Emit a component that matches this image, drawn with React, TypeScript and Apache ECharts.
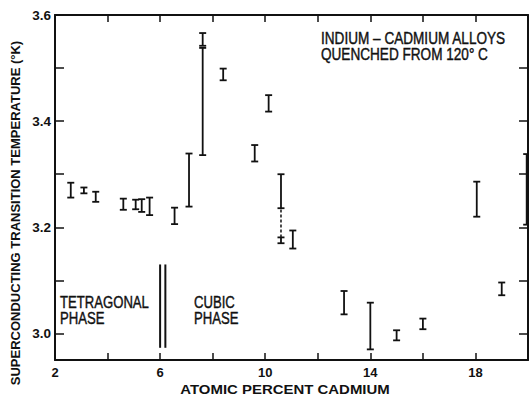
import React, { useEffect, useRef } from "react";
import * as echarts from "echarts";

// Error-bar data (atomic percent Cd, Tc low, Tc high)
const xs = [2.6, 3.1, 3.55, 4.6, 5.07, 5.3, 5.6, 6.55, 7.1, 7.62, 7.62, 8.4, 9.6, 10.13, 10.6, 10.6, 11.05, 13.0, 14.0, 15.0, 16.0, 18.05, 19.0, 19.95];
const lows = [3.256, 3.264, 3.248, 3.233, 3.234, 3.229, 3.223, 3.206, 3.239, 3.542, 3.336, 3.477, 3.324, 3.418, 3.236, 3.17, 3.16, 3.036, 2.97, 2.987, 3.008, 3.22, 3.072, 3.205];
const highs = [3.284, 3.275, 3.267, 3.254, 3.252, 3.253, 3.256, 3.237, 3.339, 3.566, 3.538, 3.499, 3.355, 3.449, 3.3, 3.181, 3.194, 3.08, 3.058, 3.006, 3.028, 3.286, 3.096, 3.338];

// Dashed connection
const dashedX = 10.6;
const dashedRange = [3.181, 3.236];

// Phase boundary lines
const phaseXs = [6.0, 6.2];
const phaseRange = [2.973, 3.13];

// Axes
const xMin = 2;
const xMax = 20;
const xLabels = [2, 6, 10, 14, 18];
const yMin = 2.95;
const yMax = 3.6;
const yLabels = [3.0, 3.2, 3.4, 3.6];
const yTicks = [3.0, 3.1, 3.2, 3.3, 3.4, 3.5, 3.6];

const INK = "#111";
const SANS = "Liberation Sans, Arial, sans-serif";

export default function App() {
  const ref = useRef<HTMLDivElement>(null);
  useEffect(() => {
    if (!ref.current) return;
    const chart = echarts.init(ref.current, undefined, { renderer: "svg" });
    const axisFont = { fontFamily: SANS, fontWeight: "bold" as const, fontSize: 13.5, color: INK };
    const noteStyle = { fontFamily: SANS, fontSize: 16, lineHeight: 16.5, fill: INK, verticalAlign: "top" as const, stroke: INK, lineWidth: 0.4 };
    const option: any = {
      animation: false,
      backgroundColor: "#fff",
      grid: { left: 55, right: 1, top: 15, bottom: 36 },
      xAxis: [
        {
          type: "value", min: xMin, max: xMax, interval: 2, position: "bottom",
          axisLine: { show: true, lineStyle: { color: INK, width: 2 } },
          axisTick: { show: true, inside: true, length: 7, lineStyle: { color: INK, width: 1.5 } },
          axisLabel: { ...axisFont, fontSize: 13, margin: 6, showMaxLabel: false, formatter: (v: number) => (xLabels.includes(v) ? String(v) : "") },
          splitLine: { show: false },
        },
        {
          type: "value", min: xMin, max: xMax, interval: 2, position: "top",
          axisLine: { show: true, lineStyle: { color: INK, width: 2 } },
          axisTick: { show: true, inside: true, length: 7, lineStyle: { color: INK, width: 1.5 } },
          axisLabel: { show: false },
          splitLine: { show: false },
        },
      ],
      yAxis: [
        {
          type: "value", min: yMin, max: yMax, position: "left",
          axisLine: { show: true, lineStyle: { color: INK, width: 2 } },
          axisTick: { show: true, inside: true, length: 9, customValues: yTicks, lineStyle: { color: INK, width: 1.5 } },
          axisLabel: { ...axisFont, margin: 4, customValues: yLabels, formatter: (v: number) => v.toFixed(1) },
          splitLine: { show: false },
        },
        {
          type: "value", min: yMin, max: yMax, position: "right",
          axisLine: { show: true, lineStyle: { color: INK, width: 2 } },
          axisTick: { show: true, inside: true, length: 9, customValues: yTicks, lineStyle: { color: INK, width: 1.5 } },
          axisLabel: { show: false },
          splitLine: { show: false },
        },
      ],
      series: [
        {
          type: "custom",
          xAxisIndex: 0,
          yAxisIndex: 0,
          clip: false,
          encode: { x: 0, y: [1, 2] },
          data: xs.map((x, i) => [x, lows[i], highs[i]]),
          renderItem: (params: any, api: any) => {
            const x = api.value(0);
            const p1 = api.coord([x, api.value(1)]);
            const p2 = api.coord([x, api.value(2)]);
            const w = 3.5;
            const st = { stroke: INK, lineWidth: 1.8 };
            return {
              type: "group",
              children: [
                { type: "line", shape: { x1: p1[0], y1: p1[1], x2: p2[0], y2: p2[1] }, style: st },
                { type: "line", shape: { x1: p1[0] - w, y1: p1[1], x2: p1[0] + w, y2: p1[1] }, style: st },
                { type: "line", shape: { x1: p2[0] - w, y1: p2[1], x2: p2[0] + w, y2: p2[1] }, style: st },
              ],
            };
          },
        },
        {
          type: "line",
          symbol: "none",
          data: [[dashedX, dashedRange[0]], [dashedX, dashedRange[1]]],
          lineStyle: { color: INK, width: 1.5, type: [3, 2] },
        },
        ...phaseXs.map((px) => ({
          type: "line",
          symbol: "none",
          data: [[px, phaseRange[0]], [px, phaseRange[1]]],
          lineStyle: { color: INK, width: 2 },
        })),
      ],
      graphic: [
        {
          type: "text", x: 321, y: 30, scaleX: 0.85,
          style: { ...noteStyle, text: "INDIUM – CADMIUM ALLOYS\nQUENCHED FROM 120° C" },
        },
        {
          type: "text", x: 60, y: 294, scaleX: 0.82,
          style: { ...noteStyle, text: "TETRAGONAL\nPHASE" },
        },
        {
          type: "text", x: 194, y: 294, scaleX: 0.82,
          style: { ...noteStyle, text: "CUBIC\nPHASE" },
        },
        {
          type: "text", x: 285, y: 389, scaleX: 1.15,
          style: { text: "ATOMIC PERCENT CADMIUM", fontFamily: SANS, fontWeight: "bold", fontSize: 13, fill: INK, align: "center", verticalAlign: "middle" },
        },
        {
          type: "text", x: 15, y: 213, rotation: Math.PI / 2,
          style: { text: "SUPERCONDUCTING TRANSITION TEMPERATURE (°K)", fontFamily: SANS, fontWeight: "bold", fontSize: 13, fill: INK, align: "center", verticalAlign: "middle" },
        },
      ],
    };
    chart.setOption(option);
    return () => chart.dispose();
  }, []);
  return <div ref={ref} style={{ position: "fixed", left: 0, top: 0, width: 529, height: 396, background: "#fff" }} />;
}
